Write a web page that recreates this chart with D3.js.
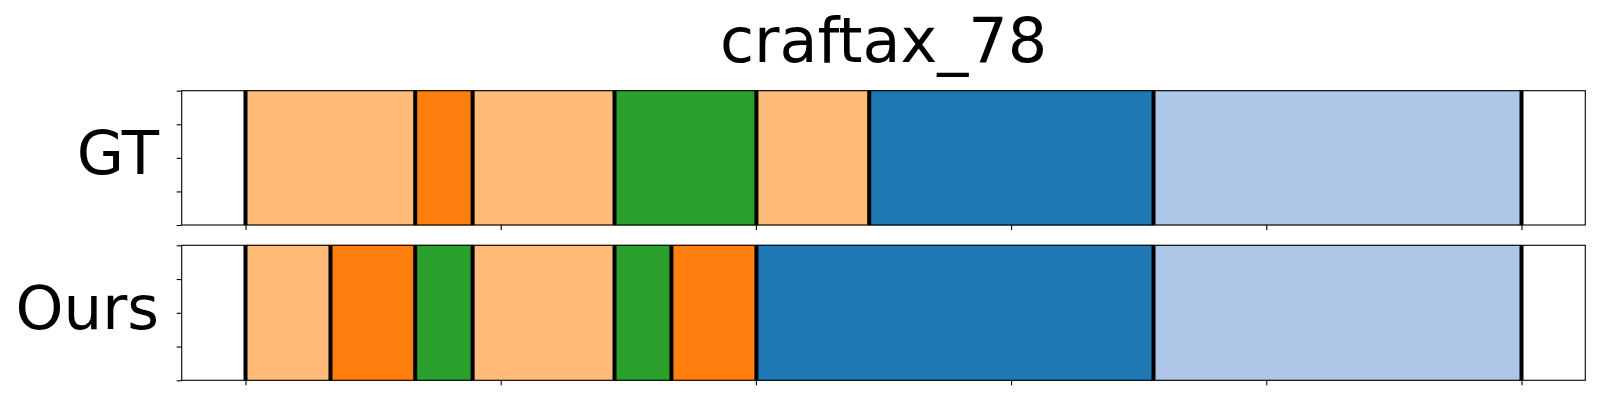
<!DOCTYPE html>
<html>
<head>
<meta charset="utf-8">
<script src="https://cdn.jsdelivr.net/npm/d3@7"></script>
<style>
  html, body { margin: 0; padding: 0; background: #fff; }
  svg { display: block; }
  text { font-family: "DejaVu Sans", sans-serif; fill: #000; }
</style>
</head>
<body>
<svg id="chart" width="1600" height="400"></svg>
<script>
// ---- data ----
const title = "craftax_78";
const rowLabels = ["GT", "Ours"];
const gtBounds = [0, 66.5, 89, 144.6, 200.2, 244.4, 355.8, 500];
const gtClasses = [3, 2, 3, 4, 3, 0, 1];
const oursBounds = [0, 33.3, 66.5, 89, 144.6, 166.9, 200.2, 355.8, 500];
const oursClasses = [3, 2, 4, 3, 4, 2, 0, 1];
const xTicks = [0, 100, 200, 300, 400, 500];
const yTicks = [0, 0.25, 0.5, 0.75, 1];
const classColors = ["#1f77b4", "#aec7e8", "#ff7f0e", "#ffbb78", "#2ca02c"];

const rows = [
  { label: rowLabels[0], bounds: gtBounds, classes: gtClasses },
  { label: rowLabels[1], bounds: oursBounds, classes: oursClasses }
];

// ---- layout ----
const svg = d3.select("#chart");
const left = 181.7, right = 1585.3;
const panels = [{ top: 90.7, bottom: 225 }, { top: 245.3, bottom: 380.3 }];

const x = d3.scaleLinear().domain([-25, 525]).range([left, right]);
const color = d3.scaleOrdinal().domain(d3.range(classColors.length)).range(classColors);

svg.append("text")
  .attr("x", (left + right) / 2)
  .attr("y", 62)
  .attr("text-anchor", "middle")
  .style("font-size", "62px")
  .text(title);

rows.forEach((row, i) => {
  const p = panels[i];
  const y = d3.scaleLinear().domain([0, 1]).range([p.bottom, p.top]);
  const g = svg.append("g");

  const segs = row.classes.map((c, k) => ({ c, x0: row.bounds[k], x1: row.bounds[k + 1] }));
  g.selectAll("rect.seg").data(segs).enter().append("rect")
    .attr("class", "seg")
    .attr("x", d => x(d.x0))
    .attr("width", d => x(d.x1) - x(d.x0))
    .attr("y", y(1))
    .attr("height", y(0) - y(1))
    .attr("fill", d => color(d.c))
    .attr("stroke", d => d3.color(color(d.c)).darker(0.35))
    .attr("stroke-width", 1);

  g.selectAll("line.bd").data(row.bounds).enter().append("line")
    .attr("class", "bd")
    .attr("x1", d => x(d)).attr("x2", d => x(d))
    .attr("y1", y(1)).attr("y2", y(0))
    .attr("stroke", "#000").attr("stroke-width", 4);

  // axes
  const xAxis = d3.axisBottom(x).tickValues(xTicks).tickSize(5).tickFormat("");
  const gx = g.append("g").attr("transform", `translate(0,${p.bottom})`).call(xAxis);
  gx.select(".domain").remove();
  const yAxis = d3.axisLeft(y).tickValues(yTicks).tickSize(5).tickFormat("");
  const gy = g.append("g").attr("transform", `translate(${left},0)`).call(yAxis);
  gy.select(".domain").remove();
  g.selectAll(".tick line").attr("stroke", "#000").attr("stroke-width", 1.1);

  g.append("rect")
    .attr("x", left).attr("y", p.top)
    .attr("width", right - left).attr("height", p.bottom - p.top)
    .attr("fill", "none").attr("stroke", "#000").attr("stroke-width", 1.1);

  g.append("text")
    .attr("x", 159)
    .attr("y", (p.top + p.bottom) / 2 + 16.2)
    .attr("text-anchor", "end")
    .style("font-size", "61px")
    .text(row.label);
});
</script>
</body>
</html>
